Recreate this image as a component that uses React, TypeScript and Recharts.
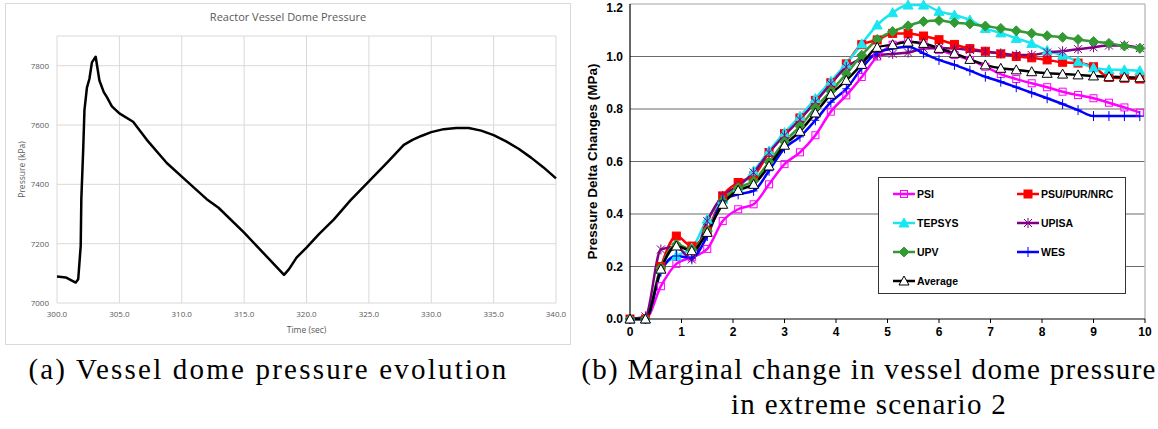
import React from 'react';
import { LineChart, Line, XAxis, YAxis, CartesianGrid, ReferenceLine } from 'recharts';

// (a) vessel dome pressure, kPa vs time (s)
const DOME_TIME = [
  300, 300.7, 301.5, 301.7, 301.9, 301.95, 302.1, 302.2, 302.4, 302.6, 302.8, 303.1,
  303.4, 303.75, 304.0, 304.4, 305.0, 306.1, 307.2, 308.8, 310.4, 312.0, 312.95, 315.0,
  318.2, 318.6, 319.2, 320.0, 321.0, 322.2, 323.5, 325.0, 326.5, 327.8, 328.5, 329.2,
  330.0, 331.0, 332.0, 333.0, 334.0, 335.0, 336.0, 337.0, 338.0, 339.0, 340.0,
];
const DOME_PRESSURE = [
  7089, 7086, 7069, 7080, 7192, 7350, 7517, 7650, 7726, 7756, 7811, 7830,
  7750, 7711, 7694, 7663, 7639, 7611, 7550, 7472, 7411, 7350, 7321, 7237,
  7095, 7114, 7153, 7187, 7232, 7282, 7345, 7410, 7475, 7533, 7550, 7563,
  7576, 7586, 7590, 7590, 7581, 7566, 7545, 7520, 7490, 7457, 7420,
];
const DOME_X_TICKS = [300, 305, 310, 315, 320, 325, 330, 335, 340];
const DOME_Y_TICKS = [7000, 7200, 7400, 7600, 7800];

// (b) marginal change, MPa, sampled every 0.3 s
const DELTA_TIME = [
  0, 0.3, 0.6, 0.9, 1.2, 1.5, 1.8, 2.1, 2.4, 2.7, 3.0, 3.3, 3.6, 3.9, 4.2, 4.5, 4.8,
  5.1, 5.4, 5.7, 6.0, 6.3, 6.6, 6.9, 7.2, 7.5, 7.8, 8.1, 8.4, 8.7, 9.0, 9.3, 9.6, 9.9,
];
const PSI = [
  0, 0, 0.125, 0.21, 0.235, 0.267, 0.373, 0.418, 0.437, 0.513, 0.59, 0.635, 0.7, 0.79, 0.852, 0.922, 1.0,
  1.045, 1.058, 1.045, 1.025, 1.006, 0.987, 0.961, 0.933, 0.914, 0.898, 0.883, 0.866, 0.853, 0.841, 0.824, 0.806, 0.786,
];
const PSU = [
  0, 0, 0.2, 0.316, 0.278, 0.335, 0.469, 0.52, 0.545, 0.634, 0.706, 0.766, 0.833, 0.9, 0.972, 1.045, 1.063,
  1.088, 1.088, 1.078, 1.064, 1.046, 1.03, 1.02, 1.01, 1.0, 0.995, 0.987, 0.978, 0.975, 0.961, 0.92, 0.917, 0.914,
];
const TEPSYS = [
  0, 0, 0.19, 0.24, 0.27, 0.38, 0.456, 0.5, 0.564, 0.64, 0.71, 0.772, 0.84, 0.906, 0.972, 1.048, 1.12,
  1.167, 1.196, 1.196, 1.172, 1.158, 1.139, 1.107, 1.09, 1.069, 1.05, 1.023, 1.005, 0.98, 0.957, 0.95, 0.949, 0.946,
];
const UPISA = [
  0, 0.01, 0.265, 0.275, 0.227, 0.373, 0.469, 0.507, 0.558, 0.634, 0.7, 0.76, 0.827, 0.896, 0.96, 0.99, 1.005,
  1.01, 1.015, 1.03, 1.032, 1.03, 1.025, 1.018, 1.012, 1.006, 1.006, 1.015, 1.02, 1.028, 1.035, 1.042, 1.042, 1.032,
];
const UPV = [
  0, 0, 0.195, 0.284, 0.265, 0.335, 0.45, 0.5, 0.526, 0.598, 0.675, 0.734, 0.805, 0.868, 0.934, 1.005, 1.065,
  1.095, 1.117, 1.133, 1.137, 1.129, 1.124, 1.116, 1.107, 1.098, 1.088, 1.079, 1.073, 1.065, 1.057, 1.05, 1.04, 1.031,
];
const WES = [
  0, 0, 0.18, 0.24, 0.233, 0.316, 0.45, 0.475, 0.488, 0.565, 0.65, 0.694, 0.757, 0.826, 0.877, 0.955, 1.016,
  1.03, 1.037, 1.012, 0.987, 0.968, 0.946, 0.923, 0.904, 0.883, 0.862, 0.841, 0.819, 0.796, 0.773, 0.773, 0.773, 0.773,
];
const AVERAGE = [
  0, 0, 0.19, 0.278, 0.26, 0.33, 0.437, 0.49, 0.513, 0.583, 0.662, 0.715, 0.785, 0.856, 0.909, 0.97, 1.035,
  1.045, 1.055, 1.05, 1.031, 1.012, 0.989, 0.968, 0.955, 0.949, 0.942, 0.936, 0.933, 0.93, 0.926, 0.923, 0.921, 0.919,
];
const DELTA_X_TICKS = [0, 1, 2, 3, 4, 5, 6, 7, 8, 9, 10];
const DELTA_Y_TICKS = [0, 0.2, 0.4, 0.6, 0.8, 1.0, 1.2];

const domeData = DOME_TIME.map((t, i) => ({ t, p: DOME_PRESSURE[i] }));
const deltaData = DELTA_TIME.map((t, i) => ({
  t,
  PSI: PSI[i],
  PSU: PSU[i],
  TEPSYS: TEPSYS[i],
  UPISA: UPISA[i],
  UPV: UPV[i],
  WES: WES[i],
  AVG: AVERAGE[i],
}));

type Shape = 'squareOpen' | 'square' | 'triangle' | 'triangleOpen' | 'diamond' | 'star' | 'plus';

const SERIES: { key: string; name: string; color: string; shape: Shape }[] = [
  { key: 'PSI', name: 'PSI', color: '#ff00ff', shape: 'squareOpen' },
  { key: 'PSU', name: 'PSU/PUR/NRC', color: '#ff0000', shape: 'square' },
  { key: 'TEPSYS', name: 'TEPSYS', color: '#19e6f0', shape: 'triangle' },
  { key: 'UPISA', name: 'UPISA', color: '#800080', shape: 'star' },
  { key: 'UPV', name: 'UPV', color: '#339933', shape: 'diamond' },
  { key: 'WES', name: 'WES', color: '#0000ff', shape: 'plus' },
  { key: 'AVG', name: 'Average', color: '#000000', shape: 'triangleOpen' },
];

function Marker({ shape, cx, cy, color }: { shape: Shape; cx: number; cy: number; color: string }) {
  switch (shape) {
    case 'squareOpen':
      return <rect x={cx - 3.5} y={cy - 3.5} width={7} height={7} fill="none" stroke={color} strokeWidth={1} />;
    case 'square':
      return <rect x={cx - 4} y={cy - 4} width={8} height={8} fill={color} stroke={color} strokeWidth={1} />;
    case 'triangle':
      return <polygon points={`${cx},${cy - 5} ${cx - 5},${cy + 4} ${cx + 5},${cy + 4}`} fill={color} stroke={color} />;
    case 'triangleOpen':
      return <polygon points={`${cx},${cy - 5} ${cx - 5},${cy + 4} ${cx + 5},${cy + 4}`} fill="#fff" stroke={color} />;
    case 'diamond':
      return <polygon points={`${cx},${cy - 5} ${cx + 5},${cy} ${cx},${cy + 5} ${cx - 5},${cy}`} fill={color} stroke={color} />;
    case 'star':
      return (
        <g stroke={color} strokeWidth={1}>
          <line x1={cx - 4} y1={cy - 4} x2={cx + 4} y2={cy + 4} />
          <line x1={cx - 4} y1={cy + 4} x2={cx + 4} y2={cy - 4} />
          <line x1={cx} y1={cy - 5} x2={cx} y2={cy + 5} />
        </g>
      );
    case 'plus':
      return (
        <g stroke={color} strokeWidth={1}>
          <line x1={cx} y1={cy - 5} x2={cx} y2={cy + 5} />
          <line x1={cx - 4} y1={cy} x2={cx + 4} y2={cy} />
        </g>
      );
  }
}

const makeDot = (shape: Shape, color: string) => (p: any) =>
  p.cx == null ? <g key={p.index} /> : (
    <g key={`${shape}-${p.index}`}>
      <Marker shape={shape} cx={p.cx} cy={p.cy} color={color} />
    </g>
  );

const excelTick = { fill: '#595959', fontSize: 8, fontFamily: 'Open Sans' };
const boldTick = { fill: '#000', fontSize: 12, fontWeight: 'bold', fontFamily: 'Liberation Sans' };

function DomeChart() {
  return (
    <div
      style={{
        position: 'absolute',
        left: 5,
        top: 3,
        width: 566,
        height: 342,
        border: '1px solid #d9d9d9',
        boxSizing: 'border-box',
        background: '#fff',
      }}
    >
      <div
        style={{
          position: 'absolute',
          top: 5,
          left: 0,
          width: '100%',
          textAlign: 'center',
          fontFamily: 'Open Sans',
          fontSize: 11,
          color: '#595959',
        }}
      >
        Reactor Vessel Dome Pressure
      </div>
      <LineChart width={564} height={340} data={domeData} margin={{ top: 32, right: 14, bottom: 11, left: 11 }}>
        <CartesianGrid stroke="#d9d9d9" />
        <XAxis
          dataKey="t"
          type="number"
          domain={[300, 340]}
          ticks={DOME_X_TICKS}
          tickFormatter={(v: number) => v.toFixed(1)}
          axisLine={false}
          tickLine={false}
          tick={excelTick}
          height={30}
          label={{ value: 'Time (sec)', position: 'insideBottom', offset: 0, fill: '#595959', fontSize: 8.5, fontFamily: 'Open Sans' }}
        />
        <YAxis
          type="number"
          domain={[7000, 7900]}
          ticks={DOME_Y_TICKS}
          axisLine={false}
          tickLine={false}
          tick={excelTick}
          width={40}
          label={{ value: 'Pressure (kPa)', angle: -90, position: 'center', dx: -15, fill: '#595959', fontSize: 8.5, fontFamily: 'Open Sans' }}
        />
        <Line dataKey="p" type="linear" stroke="#000" strokeWidth={2.5} strokeLinejoin="round" dot={false} isAnimationActive={false} />
      </LineChart>
    </div>
  );
}

function LegendIcon({ shape, color }: { shape: Shape; color: string }) {
  return (
    <svg width={22} height={10} style={{ display: 'block' }}>
      <line x1={0} y1={5} x2={22} y2={5} stroke={color} strokeWidth={2.5} />
      <Marker shape={shape} cx={11} cy={5} color={color} />
    </svg>
  );
}

function DeltaLegend() {
  return (
    <div
      style={{
        position: 'absolute',
        left: 878,
        top: 177,
        width: 248,
        height: 117,
        border: '1px solid #333',
        boxSizing: 'border-box',
        background: '#fff',
      }}
    >
      {SERIES.map((s, i) => {
        const col = i % 2;
        const row = Math.floor(i / 2);
        return (
          <div
            key={s.key}
            style={{
              position: 'absolute',
              left: col === 0 ? 14 : 138,
              top: 9 + row * 29,
              display: 'flex',
              alignItems: 'center',
              gap: 2,
              fontFamily: 'Liberation Sans',
              fontWeight: 'bold',
              fontSize: 10.5,
              color: '#000',
              lineHeight: '14px',
            }}
          >
            <LegendIcon shape={s.shape} color={s.color} />
            <span>{s.name}</span>
          </div>
        );
      })}
    </div>
  );
}

function DeltaChart() {
  return (
    <div style={{ position: 'absolute', left: 580, top: 0 }}>
      <LineChart width={578} height={348} data={deltaData} margin={{ top: 4, right: 13, bottom: 9, left: 14 }}>
        <CartesianGrid stroke="#6b6b6b" vertical={false} horizontalValues={[0.2, 0.4, 0.6, 0.8, 1.0]} />
        <ReferenceLine y={1.2} stroke="#c0c0c0" strokeWidth={1.5} />
        <ReferenceLine x={10} stroke="#c0c0c0" strokeWidth={1.5} />
        <XAxis
          dataKey="t"
          type="number"
          domain={[0, 10]}
          ticks={DELTA_X_TICKS}
          axisLine={{ stroke: '#000', strokeWidth: 1.2 }}
          tickLine={{ stroke: '#000' }}
          tickSize={4}
          tickMargin={4}
          tick={boldTick}
          height={20}
        />
        <YAxis
          type="number"
          domain={[0, 1.2]}
          ticks={DELTA_Y_TICKS}
          tickFormatter={(v: number) => v.toFixed(1)}
          axisLine={{ stroke: '#000', strokeWidth: 1.2 }}
          tickLine={false}
          tickSize={0}
          tickMargin={7}
          tick={boldTick}
          width={36}
          label={{
            value: 'Pressure Delta Changes (MPa)',
            angle: -90,
            position: 'center',
            dx: -20,
            fill: '#000',
            fontSize: 13.5,
            fontWeight: 'bold',
            fontFamily: 'Liberation Sans',
          }}
        />
        {SERIES.map((s) => (
          <Line
            key={s.key}
            dataKey={s.key}
            name={s.name}
            type="monotone"
            stroke={s.color}
            strokeWidth={2.5}
            dot={makeDot(s.shape, s.color)}
            isAnimationActive={false}
          />
        ))}
      </LineChart>
    </div>
  );
}

const captionStyle: React.CSSProperties = {
  position: 'absolute',
  fontFamily: 'Liberation Serif',
  fontSize: 29,
  letterSpacing: 1.3,
  color: '#000',
  textAlign: 'center',
  whiteSpace: 'nowrap',
  lineHeight: '35px',
};

export default function App() {
  return (
    <div style={{ position: 'absolute', left: 0, top: 0, width: 1158, height: 429, background: '#fff', overflow: 'hidden' }}>
      <DomeChart />
      <DeltaChart />
      <DeltaLegend />
      <div style={{ ...captionStyle, left: 0, width: 537, top: 352, letterSpacing: 2.2 }}>
        (a) Vessel dome pressure evolution
      </div>
      <div style={{ ...captionStyle, left: 580, width: 578, top: 352 }}>
        (b) Marginal change in vessel dome pressure
        <br />
        in extreme scenario 2
      </div>
    </div>
  );
}
